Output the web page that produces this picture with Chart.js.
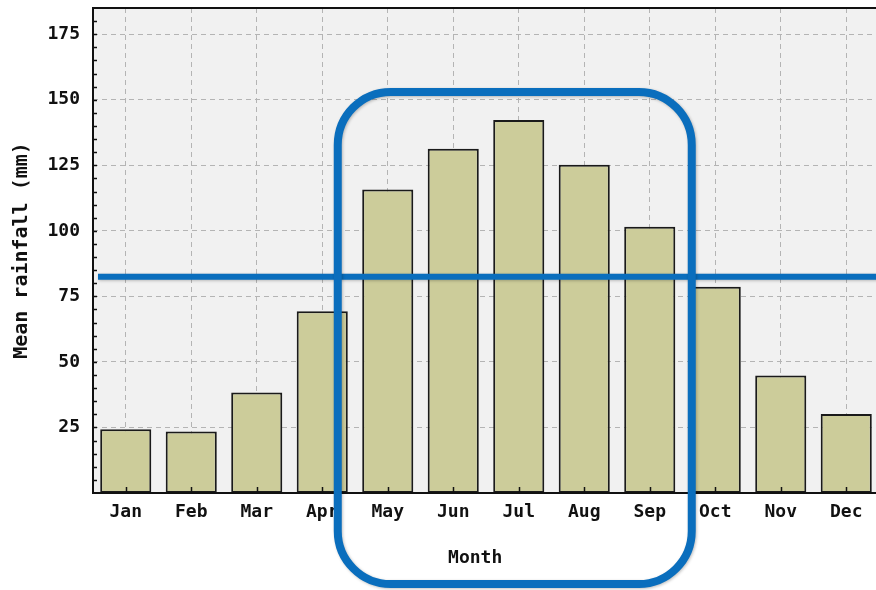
<!DOCTYPE html>
<html>
<head>
<meta charset="utf-8">
<script src="https://cdn.jsdelivr.net/npm/chart.js@4"></script>
<style>
  html, body { margin: 0; padding: 0; background: #fff; overflow: hidden; }
  #wrap { width: 879px; height: 590px; }
</style>
</head>
<body>
<div id="wrap"><canvas id="myChart"></canvas></div>
<script>
// data
var months = ['Jan', 'Feb', 'Mar', 'Apr', 'May', 'Jun', 'Jul', 'Aug', 'Sep', 'Oct', 'Nov', 'Dec'];
var rainfall = [24.3, 23.5, 38.3, 69.3, 115.8, 131.3, 142.3, 125.2, 101.6, 78.7, 44.8, 30.1];
var yTicks = [25, 50, 75, 100, 125, 150, 175];
var markLevel = 82.5;          // blue horizontal line
var boxFrom = 4, boxTo = 8;    // highlighted months (May..Sep)

var tickFont = { family: 'DejaVu Sans Mono', size: 18, weight: 'bold' };

// grey plot background + frame
var frame = {
    id: 'frame',
    beforeDraw: function(chart) {
        var a = chart.chartArea, c = chart.ctx;
        c.save();
        c.fillStyle = '#f1f1f1';
        c.fillRect(a.left, a.top, a.right - a.left, a.bottom - a.top);
        c.restore();
    },
    afterDatasetsDraw: function(chart) {
        var a = chart.chartArea, c = chart.ctx;
        var y = chart.scales.y, x = chart.scales.x;
        c.save();
        c.strokeStyle = '#111';
        c.lineWidth = 1.5;
        // minor ticks on y axis, every 5
        for (var v = 5; v < y.max; v += 5) {
            var py = Math.round(y.getPixelForValue(v)) + 0.5;
            c.beginPath(); c.moveTo(a.left, py); c.lineTo(a.left + 4, py); c.stroke();
        }
        // ticks on x axis at category centres
        months.forEach(function(m, i) {
            var px = Math.round(x.getPixelForValue(i)) + 0.5;
            c.beginPath(); c.moveTo(px, a.bottom); c.lineTo(px, a.bottom - 6); c.stroke();
        });
        // axis lines
        c.lineWidth = 2;
        c.beginPath();
        c.moveTo(a.right + 2, a.top); c.lineTo(a.left, a.top);
        c.lineTo(a.left, a.bottom); c.lineTo(a.right + 2, a.bottom);
        c.stroke();
        c.restore();
    }
};

// blue annotations
var marks = {
    id: 'marks',
    afterDraw: function(chart) {
        var a = chart.chartArea, c = chart.ctx;
        var y = chart.scales.y, x = chart.scales.x;
        var blue = '#0a6ebd';
        c.save();
        c.strokeStyle = blue;
        c.shadowColor = 'rgba(0,0,0,0.25)';
        c.shadowBlur = 3;
        c.shadowOffsetX = 1;
        c.shadowOffsetY = 1;
        // horizontal line
        c.lineWidth = 6;
        var ly = y.getPixelForValue(markLevel);
        c.beginPath(); c.moveTo(a.left + 5, ly); c.lineTo(chart.width + 5, ly); c.stroke();
        // rounded box
        var l = x.getPixelForValue(boxFrom) - 50;
        var r = x.getPixelForValue(boxTo) + 42;
        var t = y.getPixelForValue(153);
        var b = a.bottom + 91;
        c.lineWidth = 8;
        c.beginPath();
        c.roundRect(l, t, r - l, b - t, 53);
        c.stroke();
        c.restore();
    }
};

var ctx = document.getElementById('myChart').getContext('2d');
var chart = new Chart(ctx, {
    type: 'bar',
    data: {
        labels: months,
        datasets: [{
            label: 'Mean rainfall',
            data: rainfall,
            backgroundColor: '#cccc9a',
            borderColor: '#1a1a1a',
            borderWidth: 2,
            borderSkipped: false,
            barPercentage: 0.78,
            categoryPercentage: 1
        }]
    },
    options: {
        responsive: true,
        maintainAspectRatio: false,
        animation: false,
        layout: { padding: { top: 8, left: 0, right: 0, bottom: 0 } },
        plugins: { legend: { display: false }, tooltip: { enabled: false } },
        scales: {
            x: {
                grid: { offset: false, color: '#b4b4b4', lineWidth: 1, drawTicks: false },
                border: { display: false, dash: [5, 4] },
                ticks: { color: '#111', font: tickFont, padding: 9 },
                title: { display: true, text: 'Month  ', color: '#111', font: tickFont, padding: { top: 0, bottom: 21 } },
                afterFit: function(s) {
                    s.height = 97;
                    s.paddingLeft = 0; s.paddingRight = 0;
                }
            },
            y: {
                min: 0,
                max: 185,
                afterBuildTicks: function(s) { s.ticks = yTicks.map(function(v) { return { value: v }; }); },
                grid: { color: '#b4b4b4', lineWidth: 1, drawTicks: false },
                border: { display: false, dash: [5, 4] },
                ticks: { color: '#111', font: tickFont, padding: 13 },
                title: { display: true, text: 'Mean rainfall (mm)', color: '#111', font: { family: 'DejaVu Sans Mono', size: 20, weight: 'bold' }, padding: { top: 10, bottom: 0 } },
                afterFit: function(s) {
                    s.width = 93;
                    s.paddingTop = 0; s.paddingBottom = 0;
                }
            }
        }
    },
    plugins: [frame, marks]
});
</script>
</body>
</html>
